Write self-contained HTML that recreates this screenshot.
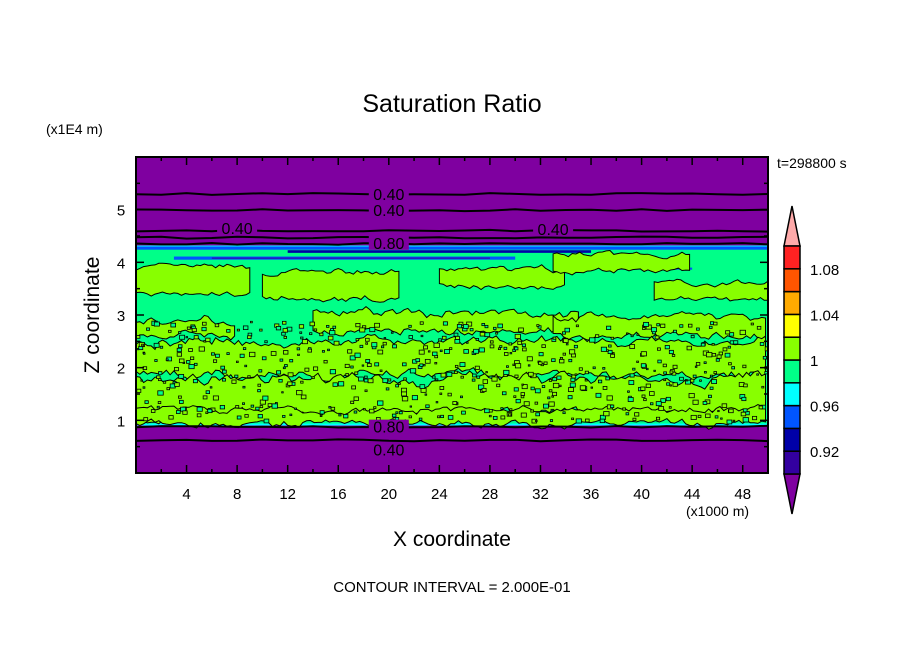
<!DOCTYPE html>
<html><head><meta charset="utf-8"><style>
body{margin:0;background:#fff;width:904px;height:654px;overflow:hidden}
svg text{font-family:"Liberation Sans",sans-serif;fill:#000}
</style></head><body>
<svg id="c" width="904" height="654" viewBox="0 0 904 654" xmlns="http://www.w3.org/2000/svg">
<text x="452" y="112" font-size="25" text-anchor="middle">Saturation Ratio</text>
<text x="46" y="134" font-size="14">(x1E4 m)</text>
<text x="777" y="168" font-size="14">t=298800 s</text>
<text x="686" y="516" font-size="14">(x1000 m)</text>
<text x="452" y="546" font-size="21" text-anchor="middle">X coordinate</text>
<text x="0" y="0" font-size="21" text-anchor="middle" transform="translate(99,315) rotate(-90)">Z coordinate</text>
<text x="452" y="592" font-size="15" text-anchor="middle">CONTOUR INTERVAL = 2.000E-01</text>
<clipPath id="clip"><rect x="136" y="157" width="632" height="316"/></clipPath>
<g id="field" clip-path="url(#clip)"></g>
<g id="axes"></g>
<g id="cbar"></g>
</svg>
<script>
// data
const xTicks=[4,8,12,16,20,24,28,32,36,40,44,48];
const zTicks=[1,2,3,4,5];
const cbarLevels=[0.90,0.92,0.94,0.96,0.98,1.00,1.02,1.04,1.06,1.08,1.10];
const cbarLabels=["0.92","0.96","1","1.04","1.08"];
const cbarColors=["#3300a0","#0000a8","#0055ff","#00ffff","#00ff88","#88ff00","#ffff00","#ffaa00","#ff5500","#ff2222"];
const moistBottom=0.92, moistTop=4.3;
// lime (>1.00) patches: [x0,x1,zLow,zHigh,roughness]
const limeX0=[0,10,24,33,41, 0,14,33, 0,0,0];
const limeX1=[9,21,34,44,50, 8,35,50, 50,50,50];
const limeZ0=[3.4,3.3,3.55,3.85,3.3, 2.6,2.7,2.6, 1.85,1.1,0.95];
const limeZ1=[3.9,3.8,3.85,4.15,3.6, 2.9,3.05,2.95, 2.5,1.8,1.2];
const limeRough=[0.05,0.06,0.05,0.05,0.05, 0.07,0.07,0.07, 0.09,0.1,0.06];
const lineZ=[5.3,4.99,4.6,4.47,4.35,0.88,0.62];
const lineLabels=[["0.40",20,5.3],["0.40",20,4.99],["0.40",8,4.65],["0.40",33,4.63],["0.80",20,4.37],["0.80",20,0.88],["0.40",20,0.45]];
const xMin=0,xMax=50,zMin=0,zMax=6;
const X=v=>136+(v-xMin)/(xMax-xMin)*632;
const Z=v=>473-(v-zMin)/(zMax-zMin)*316;
const NS="http://www.w3.org/2000/svg";
function mk(tag,attrs,parent){const e=document.createElementNS(NS,tag);for(const k in attrs)e.setAttribute(k,attrs[k]);parent.appendChild(e);return e;}
let seed=7;function rnd(){seed=(seed*16807)%2147483647;return seed/2147483647;}
const field=document.getElementById('field');
const bg=mk('rect',{x:136,y:157,width:632,height:316,fill:'#7f00a0'},field);


const moist=mk('rect',{x:X(0),y:Z(moistTop),width:632,height:Z(moistBottom)-Z(moistTop),fill:'#00ff88',stroke:'#00ffff','stroke-width':2},field);


[[0,50,4.24,4.3,'#0055ff'],[3,30,4.05,4.11,'#0055ff'],[6,28,4.07,4.09,'#3300a0'],[12,36,4.18,4.23,'#0000a8'],[38,44,3.86,3.9,'#0055ff']].forEach(s=>{
  const p=mk('rect',{x:X(s[0]),y:Z(s[3]),width:X(s[1])-X(s[0]),height:Z(s[2])-Z(s[3]),fill:s[4]},field);
  
  
});
for(let i=0;i<limeX0.length;i++){
  const r=limeRough[i];let top=[],bot=[];let wt=0,wb=0;
  for(let x=limeX0[i];x<=limeX1[i]+0.01;x+=0.3){
    wt=0.7*wt+(rnd()-0.5)*r*1.6;wb=0.7*wb+(rnd()-0.5)*r*1.6;
    top.push([X(x),Z(limeZ1[i]+wt+(rnd()-0.5)*r*0.6)]);
    bot.push([X(x),Z(limeZ0[i]+wb+(rnd()-0.5)*r*0.6)]);
  }
  const pts=top.concat(bot.reverse()).map(p=>p[0].toFixed(1)+','+p[1].toFixed(1)).join(' ');
  const pg=mk('polygon',{points:pts,fill:'#88ff00',stroke:'#000','stroke-width':1},field);
  
  
}
for(let k=0;k<600;k++){
  const x=rnd()*50,z=1+rnd()*1.9;const s=1.5+rnd()*4;
  const sp=mk('rect',{x:X(x),y:Z(z),width:s,height:s*0.8,fill:rnd()<0.5?'#88ff00':'#00ff88',stroke:'#000','stroke-width':0.8},field);
  
  
}
lineZ.forEach(z=>{
  const d=[];for(let x=0;x<=50;x+=2)d.push((d.length?'L':'M')+X(x)+','+(Z(z)+(rnd()-0.5)*2).toFixed(1));
  const l=mk('path',{d:d.join(''),fill:'none',stroke:'#000','stroke-width':2},field);
  
  
});
lineLabels.forEach(t=>{
  const r=mk('rect',{x:X(t[1])-20,y:Z(t[2])-7,width:40,height:14,fill:'#7f00a0'},field);
  
  
  const tx=mk('text',{x:X(t[1]),y:Z(t[2])+6,'font-size':16,'text-anchor':'middle'},field);
  tx.textContent=t[0];
  
  
});
const axes=document.getElementById('axes');
const fr=mk('rect',{x:136,y:157,width:632,height:316,fill:'none',stroke:'#000','stroke-width':2},axes);


for(let v=2;v<50;v+=2){const len=v%4===0?8:4;
  mk('line',{x1:X(v),x2:X(v),y1:473,y2:473-len,stroke:'#000','stroke-width':1.5},axes);
  mk('line',{x1:X(v),x2:X(v),y1:157,y2:157+len,stroke:'#000','stroke-width':1.5},axes);}
for(let v=0.5;v<6;v+=0.5){const len=v%1===0?8:4;
  mk('line',{x1:136,x2:136+len,y1:Z(v),y2:Z(v),stroke:'#000','stroke-width':1.5},axes);
  mk('line',{x1:768,x2:768-len,y1:Z(v),y2:Z(v),stroke:'#000','stroke-width':1.5},axes);}
xTicks.forEach(v=>{const t=mk('text',{x:X(v),y:499,'font-size':15,'text-anchor':'middle'},axes);t.textContent=v;
  
  });
zTicks.forEach(v=>{const t=mk('text',{x:121,y:Z(v)+6,'font-size':15,'text-anchor':'middle'},axes);t.textContent=v;
  
  });
const cb=document.getElementById('cbar');
const CB=v=>474-(v-0.90)/0.20*228;
const tri1=mk('polygon',{points:`784,${CB(1.10)} 800,${CB(1.10)} 792,206`,fill:'#ffaaaa',stroke:'#000','stroke-width':1.5},cb);


const tri2=mk('polygon',{points:`784,${CB(0.90)} 800,${CB(0.90)} 792,514`,fill:'#7f00a0',stroke:'#000','stroke-width':1.5},cb);


cbarColors.forEach((c,i)=>{const r=mk('rect',{x:784,y:CB(cbarLevels[i+1]),width:16,height:CB(cbarLevels[i])-CB(cbarLevels[i+1]),fill:c,stroke:'#000','stroke-width':1.5},cb);
  
  });
cbarLabels.forEach(s=>{const t=mk('text',{x:810,y:CB(parseFloat(s))+6,'font-size':15},cb);t.textContent=s;
  
  });
</script>
</body></html>
